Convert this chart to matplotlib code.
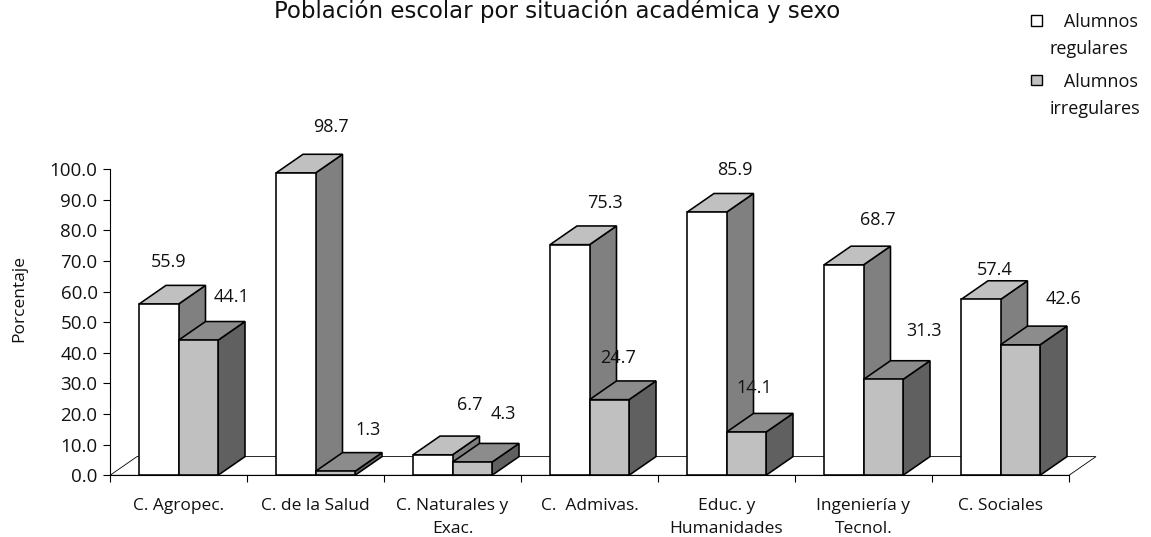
import matplotlib
matplotlib.use("Agg")
import matplotlib.pyplot as plt
from matplotlib.patches import Polygon, Rectangle, Patch
from matplotlib.legend_handler import HandlerPatch

categories = ["C. Agropec.", "C. de la Salud", "C. Naturales y\nExac.", "C.  Admivas.",
              "Educ. y\nHumanidades", "Ingeniería y\nTecnol.", "C. Sociales"]
regulares = [55.9, 98.7, 6.7, 75.3, 85.9, 68.7, 57.4]
irregulares = [44.1, 1.3, 4.3, 24.7, 14.1, 31.3, 42.6]
y_ticks = [0, 10, 20, 30, 40, 50, 60, 70, 80, 90, 100]
title = "Población escolar por situación académica y sexo"
ylabel = "Porcentaje"
legend_labels = ["   Alumnos\nregulares", "   Alumnos\nirregulares"]

# label offsets from bar-top centre, in pixels (layout)
off_reg = [(10, 42), (35, 46), (37, 50), (35, 42), (28, 42), (34, 45), (14, 29)]
off_irr = [(33, 43), (33, 41), (31, 48), (9, 42), (8, 44), (41, 48), (43, 46)]

W, H = 1151, 537
plt.rcParams["font.family"] = ["Open Sans", "DejaVu Sans"]
FS = 13.5
fig = plt.figure(figsize=(W / 100, H / 100), dpi=100)
L, R, T, B = 110, 1069, 169, 475.3
ax = fig.add_axes([L / W, 1 - B / H, (R - L) / W, (B - T) / H])
ax.set_xlim(0, 7)
ax.set_ylim(0, 100)

DX = 27 / (R - L) * 7      # depth offset in data units
DY = 18.7 / (B - T) * 100
BW = 39.5 / (R - L) * 7
EC = "black"
LW = 1.15


def box(x0, x1, h, front, top, side, z):
    kw = dict(edgecolor=EC, linewidth=LW, clip_on=False, zorder=z, joinstyle="miter")
    ax.add_patch(Polygon([(x1, 0), (x1 + DX, DY), (x1 + DX, h + DY), (x1, h)], facecolor=side, **kw))
    ax.add_patch(Polygon([(x0, h), (x1, h), (x1 + DX, h + DY), (x0 + DX, h + DY)], facecolor=top, **kw))
    ax.add_patch(Rectangle((x0, 0), x1 - x0, h, facecolor=front, **kw))


# floor
ax.add_patch(Polygon([(0, 0), (DX, DY), (7 + DX, DY), (7, 0)], closed=True, facecolor="white",
                     edgecolor=EC, linewidth=0.6, clip_on=False, zorder=1))

for i in range(len(categories)):
    c = i + 0.5
    box(c - BW, c, regulares[i], "white", "#c0c0c0", "#808080", 3 + i * 2)
    box(c, c + BW, irregulares[i], "#c0c0c0", "#8c8c8c", "#606060", 4 + i * 2)
    ax.annotate(f"{regulares[i]:.1f}", (c - BW / 2, regulares[i]), xytext=off_reg[i],
                textcoords="offset pixels", ha="center", va="center", fontsize=FS - 0.5, zorder=30, color="#111111")
    ax.annotate(f"{irregulares[i]:.1f}", (c + BW / 2, irregulares[i]), xytext=off_irr[i],
                textcoords="offset pixels", ha="center", va="center", fontsize=FS - 0.5, zorder=30, color="#111111")

for s in ("top", "right"):
    ax.spines[s].set_visible(False)
for s in ("left", "bottom"):
    ax.spines[s].set_linewidth(0.8)
    ax.spines[s].set_zorder(2)
ax.patch.set_visible(False)
ax.set_yticks(y_ticks)
ax.set_yticklabels([f"{v:.1f}" for v in y_ticks], fontsize=FS, color="#111111")
ax.set_xticks(range(8))
ax.set_xticklabels([])
ax.set_xticks([i + 0.5 for i in range(7)], minor=True)
ax.set_xticklabels(categories, minor=True, fontsize=12.5, linespacing=1.65, color="#111111")
ax.tick_params(axis="x", which="minor", length=0, pad=16)
ax.tick_params(axis="x", which="major", length=5, width=0.8)
ax.tick_params(axis="y", length=5, width=0.8, pad=4)
fig.text(19 / W, 1 - 298 / H, ylabel, rotation=90, ha="center", va="center", fontsize=12.5, color="#111111")
fig.text(557 / W, 1 - 11 / H, title, ha="center", va="center", fontsize=16.5, color="#111111",
         family=["DejaVu Sans"])


def marker(legend, orig_handle, xdescent, ydescent, width, height, fontsize):
    return Rectangle((1 - xdescent, 12 - ydescent), 7.5, 7.5, linewidth=1.3)


h = [Patch(facecolor="white", edgecolor="black"), Patch(facecolor="#c0c0c0", edgecolor="black")]
leg = ax.legend(h, legend_labels, loc="upper left", bbox_to_anchor=(1030 / W, 1 - 13 / H),
                bbox_transform=fig.transFigure, frameon=False, fontsize=13, borderpad=0, borderaxespad=0,
                handlelength=1, handletextpad=0.1, labelspacing=0.8,
                handler_map={Patch: HandlerPatch(patch_func=marker)})
for t in leg.get_texts():
    t.set_linespacing(1.65)
    t.set_color("#111111")

fig.savefig("out.png", dpi=100)
